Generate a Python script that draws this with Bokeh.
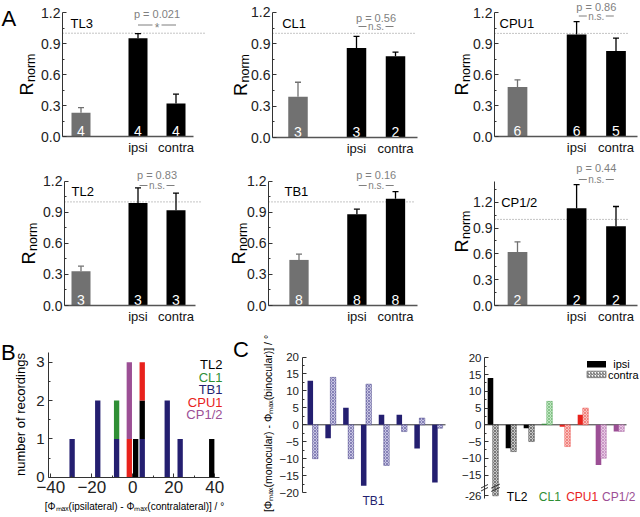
import math
import numpy as np
from bokeh.plotting import figure
from bokeh.models import (Label, ColumnDataSource, FixedTicker, Arrow,
                          Range1d, NumeralTickFormatter)
from bokeh.layouts import row, column
from bokeh.embed import file_html
from bokeh.resources import INLINE
from bokeh.core.properties import value

FONT = "Liberation Sans"
PAGE_W, PAGE_H = 640, 517
SX, SY = PAGE_W / 640, PAGE_H / 517

# ---------------- data: panel A ----------------
A_NAMES = ["TL3", "CL1", "CPU1", "TL2", "TB1", "CP1/2"]
A_GROUPS = ["", "ipsi", "contra"]
A_X = [0.0, 1.5, 2.5]
A_TICKS = [0.0, 0.3, 0.6, 0.9, 1.2]

TL3_MEAN = [0.23, 0.95, 0.32]
TL3_SEM = [0.05, 0.045, 0.09]
TL3_N = [4, 4, 4]
CL1_MEAN = [0.39, 0.86, 0.78]
CL1_SEM = [0.14, 0.11, 0.04]
CL1_N = [3, 3, 2]
CPU1_MEAN = [0.48, 0.99, 0.83]
CPU1_SEM = [0.07, 0.125, 0.125]
CPU1_N = [6, 6, 5]
TL2_MEAN = [0.33, 0.99, 0.92]
TL2_SEM = [0.05, 0.145, 0.165]
TL2_N = [3, 3, 3]
TB1_MEAN = [0.44, 0.88, 1.03]
TB1_SEM = [0.055, 0.05, 0.07]
TB1_N = [8, 8, 8]
CP12_MEAN = [0.62, 1.13, 0.92]
CP12_SEM = [0.12, 0.275, 0.23]
CP12_N = [2, 2, 2]
P_VALUES = ["0.021", "0.56", "0.86", "0.83", "0.16", "0.44"]
P_MARKS = ["*", "n.s.", "n.s.", "n.s.", "n.s.", "n.s."]

# ---------------- data: panel B ----------------
B_DIFF = [-29.6, -17.1, -7.9, -1.7, 1.4, 4.6, 16.8, 23.1, 38.5]
B_TB1 = [1, 2, 1, 0, 0, 1, 2, 1, 0]
B_CL1 = [0, 0, 1, 0, 0, 0, 0, 0, 0]
B_TL2 = [0, 0, 0, 0, 1, 1, 0, 0, 1]
B_CPU1 = [0, 0, 0, 1, 0, 1, 0, 0, 0]
B_CP12 = [0, 0, 0, 2, 0, 0, 0, 0, 0]
B_LEGEND = ["TL2", "CL1", "TB1", "CPU1", "CP1/2"]
B_XTICKS = [-40, -20, 0, 20, 40]
B_YTICKS = [0, 1, 2, 3]

# ---------------- data: panel C ----------------
C_TB1_IPSI = [13, -4, 5, -18, 3, 3, -7, -17]
C_TB1_CONTRA = [-10, 14, -10, 12, -12, -2, 2, -1]
C_CELL = ["TL2", "TL2", "TL2", "CL1", "CPU1", "CPU1", "CP1/2", "CP1/2"]
C_IPSI = [14, -7, -1, 0.3, -0.6, 3, -12, -2]
C_CONTRA = [-26, -8, -5, 7, -6.5, 5, -10, -2]
C_NAMES = ["TL2", "CL1", "CPU1", "CP1/2"]
C_YTICKS = [-20, -15, -10, -5, 0, 5, 10, 15, 20]
C_BREAK = -20

COL = {"TL2": "#000000", "CL1": "#2f8f35", "TB1": "#241f70",
       "CPU1": "#e8221c", "CP1/2": "#9c4f95"}
TINT = {"TL2": "#c9c9c9", "CL1": "#c2e8c4", "TB1": "#c8c5e4",
        "CPU1": "#f8c4c1", "CP1/2": "#e8c8e4"}
GRAY = "#717171"
PGRAY = "#7f7f7f"

ROW_Y = [0, 157, 327, 517]


class Geo:
    """Maps reference-picture pixels to data units; the frame fills the whole cell."""
    def __init__(self, cell, x0, xu, y0, yu):
        self.x0, self.xu, self.y0, self.yu = x0, xu, y0, yu
        cl, ct, cr, cb = (round(cell[0] * SX), round(cell[1] * SY),
                          round(cell[2] * SX), round(cell[3] * SY))
        self.w, self.h = cr - cl, cb - ct
        self.xr = ((cl - x0 * SX) / (xu * SX), (cr - x0 * SX) / (xu * SX))
        self.yr = ((y0 * SY - cb) / (yu * SY), (y0 * SY - ct) / (yu * SY))

    def dx(self, rx):
        return (rx - self.x0) / self.xu

    def dy(self, ry):
        return (self.y0 - ry) / self.yu


def make_fig(g, x_axis=None):
    p = figure(width=g.w, height=g.h, x_range=Range1d(*g.xr), y_range=Range1d(*g.yr),
               x_axis_location=x_axis, y_axis_location="left", toolbar_location=None,
               output_backend="svg", outline_line_color=None,
               min_border_left=0, min_border_right=0, min_border_top=0, min_border_bottom=0)
    p.grid.grid_line_color = None
    return p


def style_axis(ax, size, standoff=3):
    ax.axis_line_color = "#333333"
    ax.axis_line_width = 1
    ax.major_tick_in = 4
    ax.major_tick_out = 0
    ax.minor_tick_in = 2
    ax.minor_tick_out = 0
    ax.major_tick_line_color = "#333333"
    ax.minor_tick_line_color = "#333333"
    ax.major_label_text_font = FONT
    ax.major_label_text_font_size = f"{size}px"
    ax.major_label_text_color = "#222222"
    ax.major_label_standoff = standoff


def lab(p, g, rx, ry, text, size, color="#000000", align="left", baseline="middle", angle=0.0):
    p.add_layout(Label(x=g.dx(rx), y=g.dy(ry), text=text, text_font=FONT,
                       text_font_size=f"{size}px", text_color=color, text_align=align,
                       text_baseline=baseline, angle=angle))


def line_ann(p, x0, y0, x1, y1, color, width=1.0):
    p.add_layout(Arrow(x_start=x0, y_start=y0, x_end=x1, y_end=y1, start=None, end=None,
                       line_color=color, line_width=width))


A_LAYOUT = [
    dict(cell=(0, ROW_Y[0], 210, ROW_Y[1]), ax=62, c0=80.5, u=38, y0=136, k=103.3, ytop=1.2,
         base=193, dot=205, name=(70, 22.7), py=13.3, sy=24.5, R=(26, 95)),
    dict(cell=(210, ROW_Y[0], 420, ROW_Y[1]), ax=272, c0=297.5, u=39, y0=137, k=104.2, ytop=1.2,
         base=417, dot=415, name=(281.7, 22.7), py=17, sy=26, R=(240, 95.5)),
    dict(cell=(420, ROW_Y[0], 640, ROW_Y[1]), ax=494, c0=517, u=39.4, y0=136, k=103.1, ytop=1.2,
         base=637, dot=628, name=(499, 23.3), py=6, sy=15.5, R=(461, 95)),
    dict(cell=(0, ROW_Y[1], 210, ROW_Y[2]), ax=64, c0=80.5, u=38, y0=305, k=103.6, ytop=1.2,
         base=195, dot=202, name=(71, 190.7), py=174, sy=185, R=(28, 264)),
    dict(cell=(210, ROW_Y[1], 420, ROW_Y[2]), ax=268, c0=298.5, u=38.6, y0=305, k=103.6, ytop=1.2,
         base=417, dot=413, name=(284, 191), py=174, sy=185, R=(238.5, 264)),
    dict(cell=(420, ROW_Y[1], 640, ROW_Y[2]), ax=494, c0=517, u=39.4, y0=305, k=86.1, ytop=1.445,
         base=637, dot=628, name=(500.7, 201.7), py=167.8, sy=179, R=(461, 252)),
]
A_MEANS = [TL3_MEAN, CL1_MEAN, CPU1_MEAN, TL2_MEAN, TB1_MEAN, CP12_MEAN]
A_SEMS = [TL3_SEM, CL1_SEM, CPU1_SEM, TL2_SEM, TB1_SEM, CP12_SEM]
A_NS = [TL3_N, CL1_N, CPU1_N, TL2_N, TB1_N, CP12_N]
TICK_SIZE_A = 14
TICK_STANDOFF_A = 2


def build_a(i):
    L = A_LAYOUT[i]
    mean, sem, n = A_MEANS[i], A_SEMS[i], A_NS[i]
    g = Geo(L["cell"], L["c0"], L["u"], L["y0"], L["k"])
    p = make_fig(g, x_axis="below")
    xl = g.dx(L["ax"])
    ay = p.yaxis[0]
    ay.fixed_location = xl
    ay.bounds = (0, L["ytop"])
    minors = [t + 0.15 for t in A_TICKS if t + 0.15 < L["ytop"]]
    ay.ticker = FixedTicker(ticks=A_TICKS, minor_ticks=minors)
    ay.formatter = NumeralTickFormatter(format="0.0")
    style_axis(ay, TICK_SIZE_A, standoff=TICK_STANDOFF_A)
    top_tick = A_TICKS[-1]
    near_top = g.yr[1] - top_tick < 0.15
    if near_top:
        # the top tick label sits at the canvas edge: write it as a label of its own
        ay.major_label_overrides = {top_tick: ""}
        p.add_layout(Label(x=xl, y=top_tick, x_offset=-TICK_STANDOFF_A, text=f"{top_tick:.1f}",
                           text_font=FONT, text_font_size=f"{TICK_SIZE_A}px",
                           text_color="#222222", text_align="right", text_baseline="middle"))
    axx = p.xaxis[0]
    axx.fixed_location = 0
    axx.bounds = (xl, g.dx(L["base"]))
    axx.ticker = FixedTicker(ticks=A_X[1:], minor_ticks=[])
    axx.major_label_overrides = {A_X[1]: A_GROUPS[1], A_X[2]: A_GROUPS[2]}
    style_axis(axx, 13, standoff=3)
    axx.axis_line_color = "#555555"
    axx.axis_line_width = 1.6
    axx.major_tick_in = 0
    axx.major_label_text_color = "#111111"

    p.segment(x0=[xl], y0=[1.0], x1=[g.dx(L["dot"])], y1=[1.0], line_color="#8a8a8a",
              line_dash="1 2", line_width=1)
    colors = [GRAY, "#000000", "#000000"]
    err = [m + s for m, s in zip(mean, sem)]
    src = ColumnDataSource(dict(x=A_X, top=mean, err=err, color=colors))
    p.vbar(x="x", top="top", width=0.5, fill_color="color", line_color=None, source=src)
    p.segment(x0="x", y0="top", x1="x", y1="err", line_color="color", line_width=1.3, source=src)
    cap = 3.0 / L["u"]
    p.segment(x0=[x - cap for x in A_X], y0=err, x1=[x + cap for x in A_X], y1=err,
              line_color=colors, line_width=1.3)
    p.text(x=A_X, y=[5.3 / L["k"]] * 3, text=[str(v) for v in n], text_color="white",
           text_align="center", text_baseline="alphabetic", text_font=value(FONT),
           text_font_size="14px")

    lab(p, g, L["name"][0], L["name"][1], A_NAMES[i], 13)
    xc = (A_X[1] + A_X[2]) / 2
    p.add_layout(Label(x=xc, y=g.dy(L["py"]), text=f"p = {P_VALUES[i]}", text_font=FONT,
                       text_font_size="11px", text_color=PGRAY, text_align="center",
                       text_baseline="middle"))
    ys = g.dy(L["sy"])
    if P_MARKS[i] == "*":
        inner, outer = 4.5 / L["u"], 19.0 / L["u"]
        p.add_layout(Label(x=xc, y=g.dy(L["sy"] + 3), text="*", text_font=FONT,
                           text_font_size="12px", text_color=PGRAY, text_align="center",
                           text_baseline="middle"))
    else:
        inner, outer = 9.5 / L["u"], 17.5 / L["u"]
        p.add_layout(Label(x=xc, y=ys, text=P_MARKS[i], text_font=FONT, text_font_size="10px",
                           text_color=PGRAY, text_align="center", text_baseline="middle"))
    line_ann(p, xc - outer, ys, xc - inner, ys, PGRAY)
    line_ann(p, xc + inner, ys, xc + outer, ys, PGRAY)
    rx, ry = L["R"]
    lab(p, g, rx, ry, "R", 18, baseline="alphabetic", angle=math.pi / 2)
    lab(p, g, rx + 4, ry - 13.5, "norm", 12.5, baseline="alphabetic", angle=math.pi / 2)
    if i == 0:
        lab(p, g, 1, 17.5, "A", 22, baseline="alphabetic")
    return p


a_figs = [build_a(i) for i in range(6)]

# ---------------- panel B ----------------
gB = Geo((0, ROW_Y[2], 232, ROW_Y[3]), 132.3, 2.05, 476.7, 38.3)
pB = make_fig(gB, x_axis="below")
xa = pB.xaxis[0]
xa.fixed_location = 0
xa.bounds = (gB.dx(48), gB.dx(219))
xa.ticker = FixedTicker(ticks=B_XTICKS, minor_ticks=[-30, -10, 10, 30])
style_axis(xa, 17, standoff=4)
ya = pB.yaxis[0]
ya.fixed_location = gB.dx(48)
ya.bounds = (0, gB.dy(351.7))
ya.ticker = FixedTicker(ticks=B_YTICKS, minor_ticks=[0.5, 1.5, 2.5])
style_axis(ya, 15, standoff=4)
srcB = ColumnDataSource(dict(x=B_DIFF, TB1=B_TB1, CL1=B_CL1, TL2=B_TL2, CPU1=B_CPU1, CP12=B_CP12))
pB.vbar_stack(["TB1", "CL1", "TL2", "CPU1", "CP12"], x="x", width=2.6,
              fill_color=[COL["TB1"], COL["CL1"], COL["TL2"], COL["CPU1"], COL["CP1/2"]],
              line_color=None, source=srcB)
lab(pB, gB, 0.5, 351.7, "B", 22, baseline="alphabetic")
lab(pB, gB, 20, 414, "number of recordings", 13, align="center", angle=math.pi / 2)
lab(pB, gB, 134, 506, "[\u03a6\u2098\u2090\u2093(ipsilateral) - \u03a6\u2098\u2090\u2093(contralateral)] / \u00b0",
    10, align="center")
for j, nm in enumerate(B_LEGEND):
    lab(pB, gB, 222, 364 + 12.5 * j, nm, 13, color=COL[nm], align="right")

# ---------------- panel C (TB1) ----------------
gCL = Geo((232, ROW_Y[2], 460, ROW_Y[3]), 312.3, 17.8, 424.3, 3.39)
pCL = make_fig(gCL, x_axis=None)
ya = pCL.yaxis[0]
ya.fixed_location = gCL.dx(301.5)
ya.bounds = (-20, 20)
ya.ticker = FixedTicker(ticks=C_YTICKS, minor_ticks=[t + 2.5 for t in C_YTICKS[:-1]])
style_axis(ya, 11.5, standoff=3)
xs = np.arange(len(C_TB1_IPSI))
pCL.segment(x0=[gCL.dx(301.5)], y0=[0], x1=[gCL.dx(445)], y1=[0], line_color="#333333",
            line_width=1)
pCL.vbar(x=xs - 0.14, top=C_TB1_IPSI, width=0.31, fill_color=COL["TB1"], line_color=None)
pCL.vbar(x=xs + 0.14, top=C_TB1_CONTRA, width=0.31, fill_color=TINT["TB1"],
         line_color=COL["TB1"], line_alpha=0.35, hatch_pattern="x", hatch_color=COL["TB1"],
         hatch_alpha=0.5, hatch_scale=3, hatch_weight=0.8)
lab(pCL, gCL, 232.5, 349, "C", 22, baseline="alphabetic")
lab(pCL, gCL, 267, 423,
    "[\u03a6\u2098\u2090\u2093(monocular) - \u03a6\u2098\u2090\u2093(binocular)] / \u00b0",
    10.5, align="center", angle=math.pi / 2)
lab(pCL, gCL, 373, 500, "TB1", 12, color=COL["TB1"], align="center")


# ---------------- panel C (other neurons) ----------------
def brk(v):
    return v if v >= C_BREAK else C_BREAK + (v - C_BREAK) * 0.2


gCR = Geo((460, ROW_Y[2], 640, ROW_Y[3]), 492.5, 18.0, 424.3, 3.35)
pCR = make_fig(gCR, x_axis=None)
ya = pCR.yaxis[0]
tick26 = brk(min(C_CONTRA))
ya.fixed_location = gCR.dx(484)
ya.bounds = (gCR.dy(498), 20)
ya.ticker = FixedTicker(ticks=[t for t in C_YTICKS if t > C_BREAK] + [tick26],
                        minor_ticks=[t + 2.5 for t in C_YTICKS[1:-1]])
ya.major_label_overrides = {tick26: str(int(min(C_CONTRA)))}
style_axis(ya, 11.5, standoff=3)
xs2 = np.arange(len(C_IPSI))
pCR.segment(x0=[gCR.dx(484)], y0=[0], x1=[gCR.dx(626)], y1=[0], line_color="#333333",
            line_width=1)
pCR.vbar(x=xs2 - 0.14, top=C_IPSI, width=0.31, fill_color=[COL[c] for c in C_CELL],
         line_color=None)
pCR.vbar(x=xs2 + 0.14, top=[brk(v) for v in C_CONTRA], width=0.31,
         fill_color=[TINT[c] for c in C_CELL], line_color=[COL[c] for c in C_CELL],
         line_alpha=0.35, hatch_pattern="x", hatch_color=[COL[c] for c in C_CELL],
         hatch_alpha=0.5, hatch_scale=3, hatch_weight=0.8)
bx = xs2[0] + 0.14
pCR.segment(x0=[bx - 0.24, bx - 0.24], y0=[-18.9, -19.9], x1=[bx + 0.24, bx + 0.24],
            y1=[-17.7, -18.7], line_color="#333333", line_width=1)
pCR.segment(x0=[gCR.dx(480.5), gCR.dx(480.5)], y0=[gCR.dy(487.5), gCR.dy(490.5)],
            x1=[gCR.dx(487.5), gCR.dx(487.5)], y1=[gCR.dy(484), gCR.dy(487)],
            line_color="#333333", line_width=1)
pCR.rect(x=[gCR.dx(596)], y=[gCR.dy(363.7)], width=19 / 18.0, height=6.5 / 3.35,
         fill_color="#000000", line_color=None)
pCR.rect(x=[gCR.dx(596)], y=[gCR.dy(373.9)], width=19 / 18.0, height=6.5 / 3.35,
         fill_color="#ffffff", line_color="#777777", line_width=0.8, hatch_pattern="/",
         hatch_color="#333333", hatch_scale=3, hatch_weight=0.8)
lab(pCR, gCR, 621, 363.7, "ipsi", 11, align="center")
lab(pCR, gCR, 638, 374, "contra", 11, align="right")
for nm, rx in zip(C_NAMES, [516.7, 549.3, 581.7, 618.3]):
    lab(pCR, gCR, rx, 496.7, nm, 12, color=COL[nm], align="center")

layout = column(row(*a_figs[:3]), row(*a_figs[3:]), row(pB, pCL, pCR))
open("out.html", "w").write(file_html(layout, INLINE))
